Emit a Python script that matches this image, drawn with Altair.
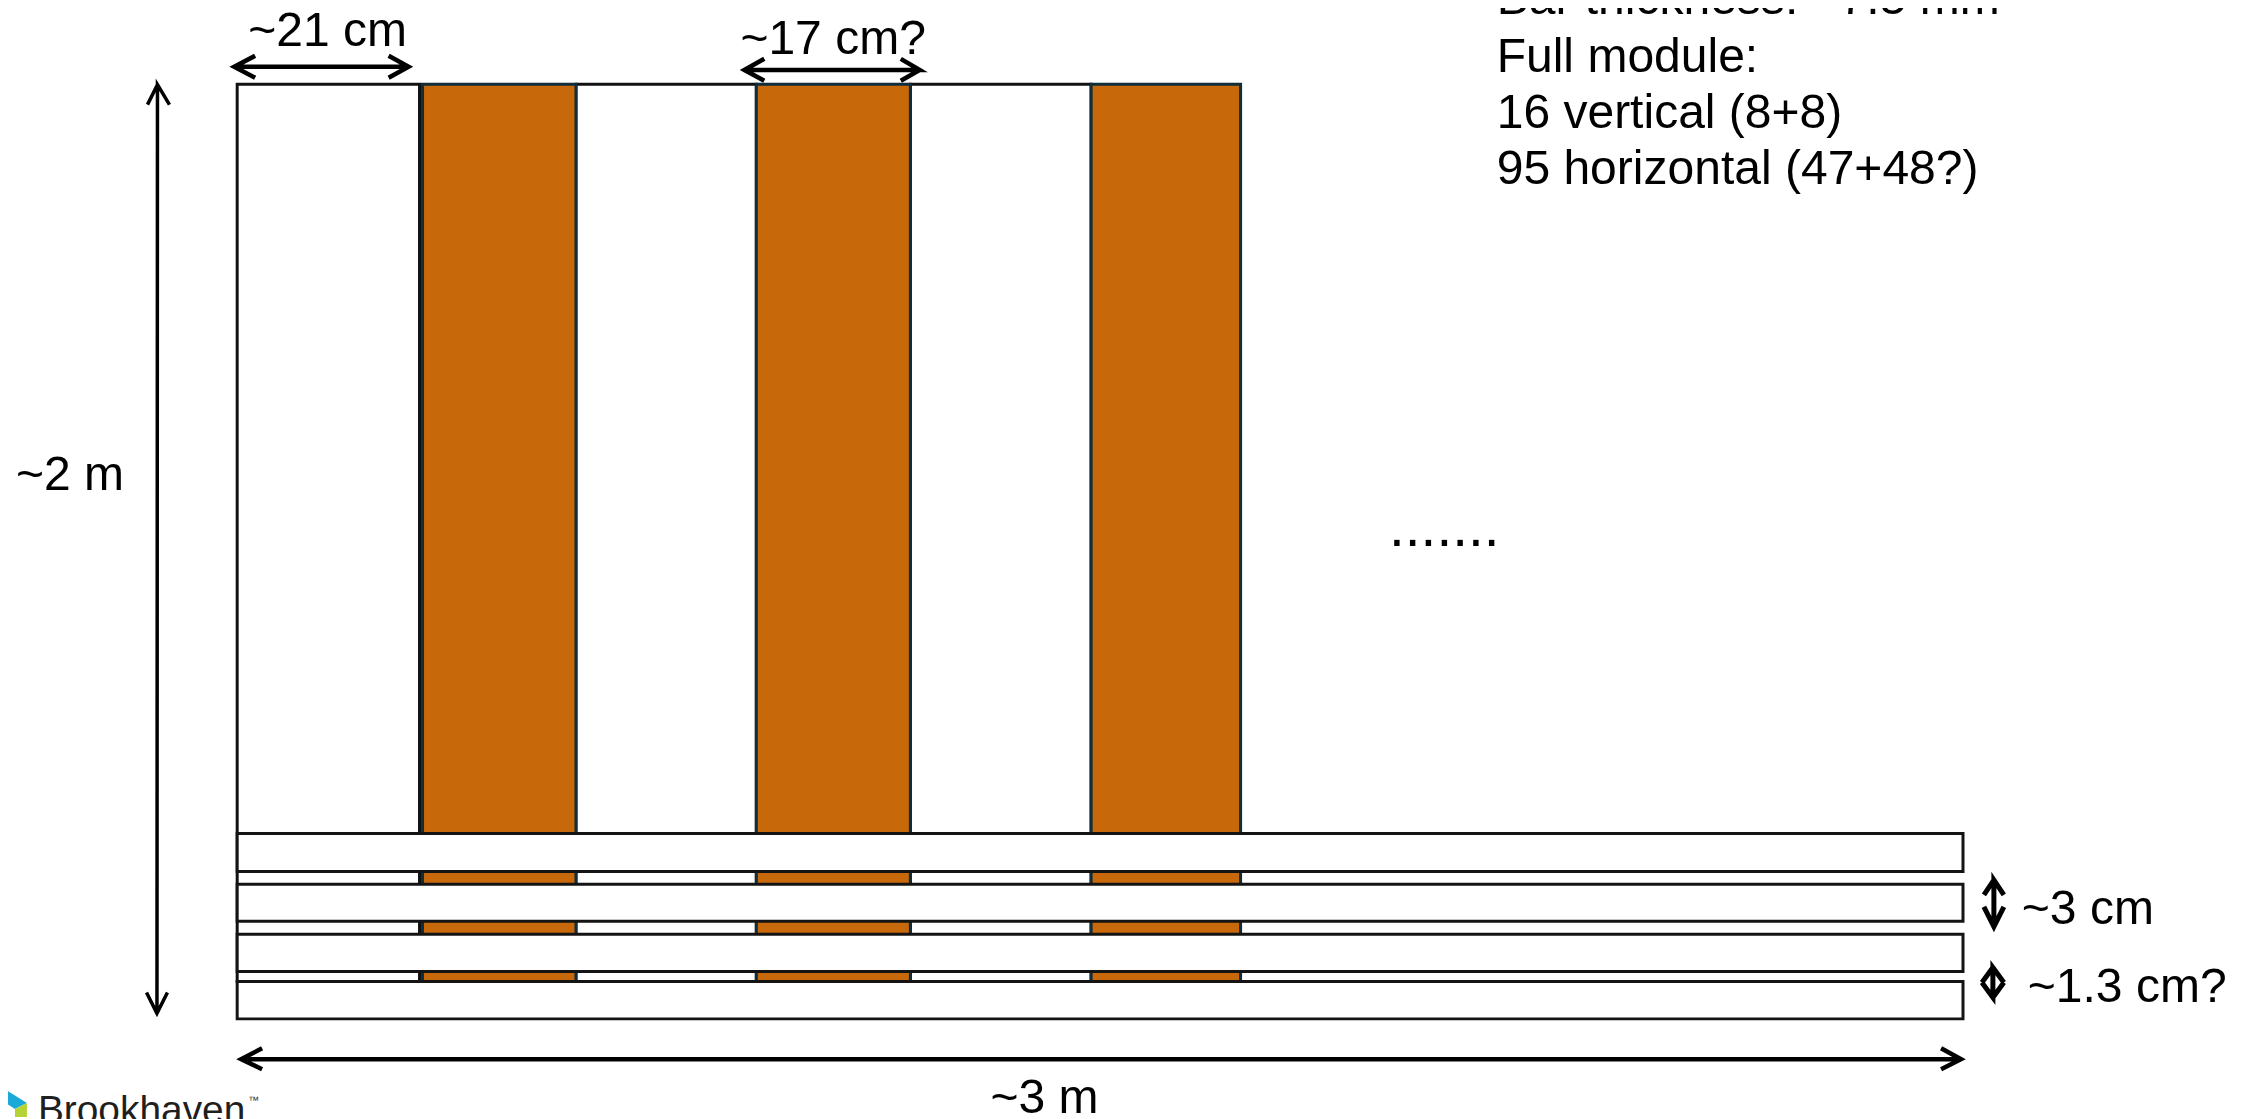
import altair as alt
import pandas as pd

W, H = 2243, 1111
FONT = "Liberation Sans"

# Vertical bars (in picture units)
col_left = [238, 578, 913.6, 424, 759, 1095]
col_right = [421, 759, 1095, 578, 913.6, 1245]
col_top = [82.5, 82.5, 82.5, 82.5, 82.5, 82.5]
col_bottom = [983, 983, 983, 983, 983, 983]
col_fill = ["#ffffff", "#ffffff", "#ffffff", "#c7680a", "#c7680a", "#c7680a"]
col_stroke = ["#111111", "#111111", "#111111", "#0f2d3a", "#0f2d3a", "#0f2d3a"]

# Horizontal bars
bar_left = [238, 238, 238, 238]
bar_right = [1970, 1970, 1970, 1970]
bar_top = [834.5, 885.5, 935.5, 983]
bar_bottom = [872.5, 922.5, 973, 1020.5]

# Dimension arrows: polyline through both heads
arrow_names = ["w21", "w17", "h2", "w3", "h3cm", "h13cm"]
arrow_width = [4.5, 4.5, 3.5, 4.5, 5, 5]
arrow_xs = [
    [256, 235, 256, 235, 410, 390, 410, 390],
    [767, 747, 767, 747, 923, 904, 923, 904],
    [148, 158, 170, 158, 157.5, 147, 157.5, 168],
    [263, 242, 263, 242, 1968, 1948, 1968, 1948],
    [1991, 2001, 2011, 2001, 2001, 1991, 2001, 2011],
    [1989, 2000, 2011, 2000, 2000, 1989, 2000, 2011],
]
arrow_ys = [
    [54, 65, 76, 65, 65, 54, 65, 76],
    [57, 68.3, 79, 68.3, 68.3, 57, 68.3, 79],
    [103, 83, 103, 83, 1015, 994, 1015, 994],
    [1050, 1061, 1071, 1061, 1061, 1050, 1061, 1071],
    [896, 881, 896, 881, 928, 908, 928, 908],
    [984, 969, 984, 969, 999, 984, 999, 984],
]

# Text labels
labels = [
    "~21 cm", "~17 cm?", "~2 m", "~3 m", "~3 cm", "~1.3 cm?",
    "Bar thickness:\u00a0~7.5 mm", "Full module:", "16 vertical (8+8)",
    "95 horizontal (47+48?)", ".......", "Brookhaven", "\u2122",
]
label_x = [249, 743, 16, 994, 2029, 2035, 1502, 1502, 1502, 1502, 1394, 38, 249]
label_y = [44, 52, 490, 1115, 925, 1004, 12, 70, 126, 183, 546, 1125, 1106]
label_size = [48.2, 48.2, 48.2, 48.2, 48.2, 48.2, 48.2, 48.2, 48.2, 48.2, 57, 39, 11]
label_color = ["#000000"] * 11 + ["#1f1f1f", "#1f1f1f"]

# Logo shapes
logo_names = ["blue", "blue", "blue", "green", "green", "blue2", "blue2"]
logo_x = [0, 15, 27, 15, 27, 0, 8]
logo_y = [1088, 1097.5, 1105, 1111, 1105, 1112, 1119]
logo_y2 = [1101, 1111, 1105, 1119, 1119, 1119, 1119]
logo_fill = ["#1ba9d8", "#1ba9d8", "#1ba9d8", "#b5d334", "#b5d334", "#1ba9d8", "#1ba9d8"]

x_scale = alt.Scale(domain=[8, 2251], range=[0, W], nice=False, zero=False)
y_scale = alt.Scale(domain=[8, 1119], range=[0, H], nice=False, zero=False)
X = lambda f: alt.X(f, type="quantitative", scale=x_scale, axis=None)
Y = lambda f: alt.Y(f, type="quantitative", scale=y_scale, axis=None)

cols = pd.DataFrame(dict(x=col_left, x2=col_right, y=col_top, y2=col_bottom, fill=col_fill, stroke=col_stroke))
bars = pd.DataFrame(dict(x=bar_left, x2=bar_right, y=bar_top, y2=bar_bottom))
arrows = pd.DataFrame([
    dict(name=n, w=w, i=i, x=px, y=py)
    for n, w, xs, ys in zip(arrow_names, arrow_width, arrow_xs, arrow_ys)
    for i, (px, py) in enumerate(zip(xs, ys))
])
texts = pd.DataFrame(dict(t=labels, x=label_x, y=label_y, s=label_size, c=label_color))
logo = pd.DataFrame(dict(n=logo_names, x=logo_x, y=logo_y, y2=logo_y2, f=logo_fill))

col_layer = alt.Chart(cols).mark_rect(strokeWidth=3).encode(
    x=X("x"), x2="x2", y=Y("y"), y2="y2",
    fill=alt.Fill("fill:N", scale=None), stroke=alt.Stroke("stroke:N", scale=None),
)
bar_layer = alt.Chart(bars).mark_rect(fill="#ffffff", stroke="#141414", strokeWidth=3).encode(
    x=X("x"), x2="x2", y=Y("y"), y2="y2",
)
arrow_layer = alt.Chart(arrows).mark_line(color="#000000", strokeJoin="miter", strokeCap="butt").encode(
    x=X("x"), y=Y("y"), detail="name:N", order="i:Q",
    strokeWidth=alt.StrokeWidth("w:Q", scale=None),
)
text_layer = alt.Chart(texts).mark_text(align="left", baseline="alphabetic", font=FONT).encode(
    x=X("x"), y=Y("y"), text="t:N",
    size=alt.Size("s:Q", scale=None),
    color=alt.Color("c:N", scale=None),
)
logo_layer = alt.Chart(logo).mark_area(clip=False).encode(
    x=X("x"), y=Y("y"), y2="y2", detail="n:N",
    fill=alt.Fill("f:N", scale=None),
)

chart = (
    alt.layer(col_layer, bar_layer, logo_layer, arrow_layer, text_layer)
    .properties(width=W, height=H, padding=0, background="#ffffff",
                autosize=alt.AutoSizeParams(type="none"))
    .configure_view(stroke=None)
)
chart.save("out.html", embed_options={"renderer": "svg", "actions": False})
